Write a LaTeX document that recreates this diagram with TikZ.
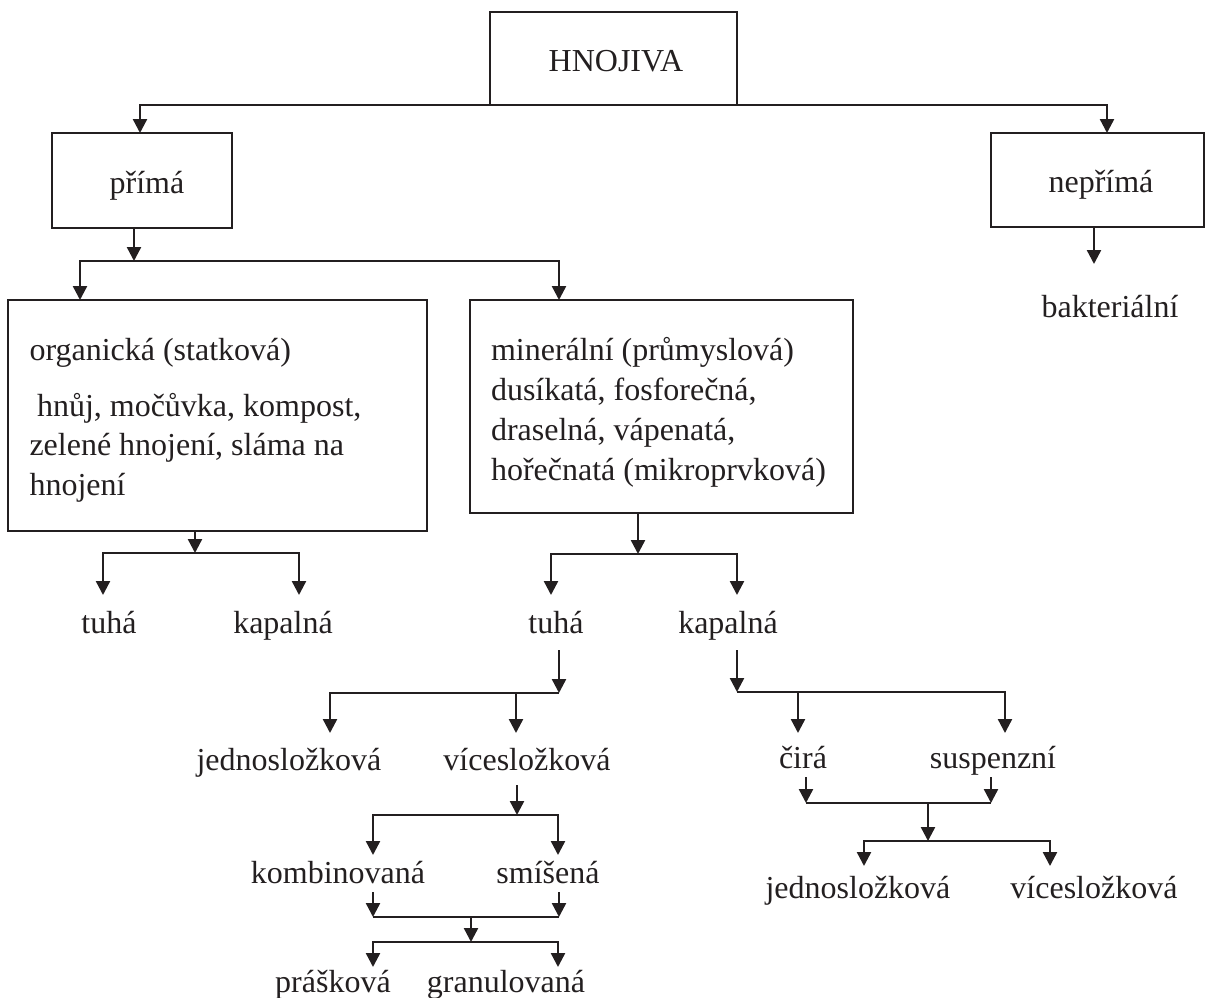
\documentclass[tikz,border=0pt]{standalone}
\usepackage{fontspec}
\setmainfont{Liberation Serif}
\usetikzlibrary{arrows.meta}
\definecolor{ink}{RGB}{35,31,32}
\begin{document}
\begin{tikzpicture}[x=1pt,y=-1pt,
  box/.style={draw=ink,line width=1.8pt,inner sep=0pt,outer sep=0pt,rectangle},
  lbl/.style={inner sep=0pt,outer sep=0pt,text=ink,font=\fontsize{32}{40}\selectfont},
  arr/.style={draw=ink,line width=2.4pt,-{Triangle[length=14pt,width=14pt]}},
  ln/.style={draw=ink,line width=2.4pt}]
\useasboundingbox (0,0) rectangle (1205,997);
% boxes and labels
\node[box,minimum width=247pt,minimum height=93pt] (hn) at (613.5,58.5) {};
\node[lbl,anchor=base] (hnt) at (616,71) {HNOJIVA};
\node[box,minimum width=180pt,minimum height=95pt] (prima) at (142,180.5) {};
\node[lbl,anchor=base] (primat) at (147,193) {přímá};
\node[box,minimum width=213pt,minimum height=94pt] (nepr) at (1097.5,180) {};
\node[lbl,anchor=base] (neprt) at (1101,192) {nepřímá};
\node[lbl,anchor=base] (bakt) at (1110,317) {bakteriální};
\node[box,minimum width=419pt,minimum height=231pt] (org) at (217.5,415.5) {};
\node[lbl,anchor=base west] (org1) at (29.5,360) {organická (statková)};
\node[lbl,anchor=base west] (org2) at (37,416) {hnůj, močůvka, kompost,};
\node[lbl,anchor=base west] (org3) at (29.5,455) {zelené hnojení, sláma na};
\node[lbl,anchor=base west] (org4) at (29.5,495) {hnojení};
\node[box,minimum width=383pt,minimum height=213pt] (min) at (661.5,406.5) {};
\node[lbl,anchor=base west] (min1) at (491,360) {minerální (průmyslová)};
\node[lbl,anchor=base west] (min2) at (491,400) {dusíkatá, fosforečná,};
\node[lbl,anchor=base west] (min3) at (491,440) {draselná, vápenatá,};
\node[lbl,anchor=base west] (min4) at (491,480) {hořečnatá (mikroprvková)};
\node[lbl,anchor=base] (tuha1) at (109,633) {tuhá};
\node[lbl,anchor=base] (kap1) at (283,633) {kapalná};
\node[lbl,anchor=base] (tuha2) at (556,633) {tuhá};
\node[lbl,anchor=base] (kap2) at (728,633) {kapalná};
\node[lbl,anchor=base] (jedn1) at (289,770) {jednosložková};
\node[lbl,anchor=base] (vice1) at (527,770) {vícesložková};
\node[lbl,anchor=base] (komb) at (338,883) {kombinovaná};
\node[lbl,anchor=base] (smis) at (548,883) {smíšená};
\node[lbl,anchor=base] (pras) at (333,992) {prášková};
\node[lbl,anchor=base] (gran) at (506,992) {granulovaná};
\node[lbl,anchor=base] (cira) at (803,768) {čirá};
\node[lbl,anchor=base] (susp) at (993,768) {suspenzní};
\node[lbl,anchor=base] (jedn2) at (858,898) {jednosložková};
\node[lbl,anchor=base] (vice2) at (1094,898) {vícesložková};
% connectors
\draw[arr] (hn.south) -| ([xshift=-2pt]prima.north);
\draw[arr] (hn.south) -| ([xshift=9.5pt]nepr.north);
\coordinate (j1) at (134,261);
\draw[arr] (prima.south -| j1) -- (j1);
\draw[arr] (j1) -| ([xshift=72pt]org.north west);
\draw[arr] (j1) -| ([xshift=89pt]min.north west);
\coordinate (t0) at (1094,264);
\draw[arr] (nepr.south -| t0) -- (t0);
\coordinate (j2) at (195,553);
\draw[arr] (org.south -| j2) -- (j2);
\coordinate (tA) at (103,595);
\coordinate (tB) at (299,595);
\draw[arr] (j2) -| (tA);
\draw[arr] (j2) -| (tB);
\coordinate (j3) at (638,554);
\draw[arr] (min.south -| j3) -- (j3);
\coordinate (tC) at (551,595);
\coordinate (tD) at (737,595);
\draw[arr] (j3) -| (tC);
\draw[arr] (j3) -| (tD);
\coordinate (sE) at (559,650);
\coordinate (j4) at (559,693);
\draw[arr] (sE) -- (j4);
\coordinate (tE1) at (330,733);
\coordinate (tE2) at (516,733);
\draw[arr] (j4) -| (tE1);
\draw[arr] (tE2 |- j4) -- (tE2);
\coordinate (sF) at (737,650);
\coordinate (j5) at (737,692);
\draw[arr] (sF) -- (j5);
\coordinate (tF1) at (798,733);
\coordinate (tF2) at (1005,733);
\draw[arr] (j5) -| (tF2);
\draw[arr] (tF1 |- j5) -- (tF1);
\coordinate (sG) at (517,785);
\coordinate (j6) at (517,815);
\draw[arr] (sG) -- (j6);
\coordinate (tG1) at (373,855);
\coordinate (tG2) at (558,855);
\draw[arr] (j6) -| (tG1);
\draw[arr] (j6) -| (tG2);
\coordinate (sH1) at (373,892);
\coordinate (sH2) at (559,892);
\coordinate (eH1) at (373,917);
\coordinate (eH2) at (559,917);
\draw[arr] (sH1) -- (eH1);
\draw[arr] (sH2) -- (eH2);
\draw[ln] (eH1) -- (eH2);
\coordinate (j7) at (471,942);
\draw[arr] (j7 |- eH1) -- (j7);
\coordinate (tH1) at (373,967);
\coordinate (tH2) at (558,967);
\draw[arr] (j7) -| (tH1);
\draw[arr] (j7) -| (tH2);
\coordinate (sI1) at (806,777);
\coordinate (sI2) at (991,777);
\coordinate (eI1) at (806,803);
\coordinate (eI2) at (991,803);
\draw[arr] (sI1) -- (eI1);
\draw[arr] (sI2) -- (eI2);
\draw[ln] (eI1) -- (eI2);
\coordinate (j8) at (928,841);
\draw[arr] (j8 |- eI1) -- (j8);
\coordinate (tI1) at (864,866);
\coordinate (tI2) at (1050,866);
\draw[arr] (j8) -| (tI1);
\draw[arr] (j8) -| (tI2);
\end{tikzpicture}
\end{document}
